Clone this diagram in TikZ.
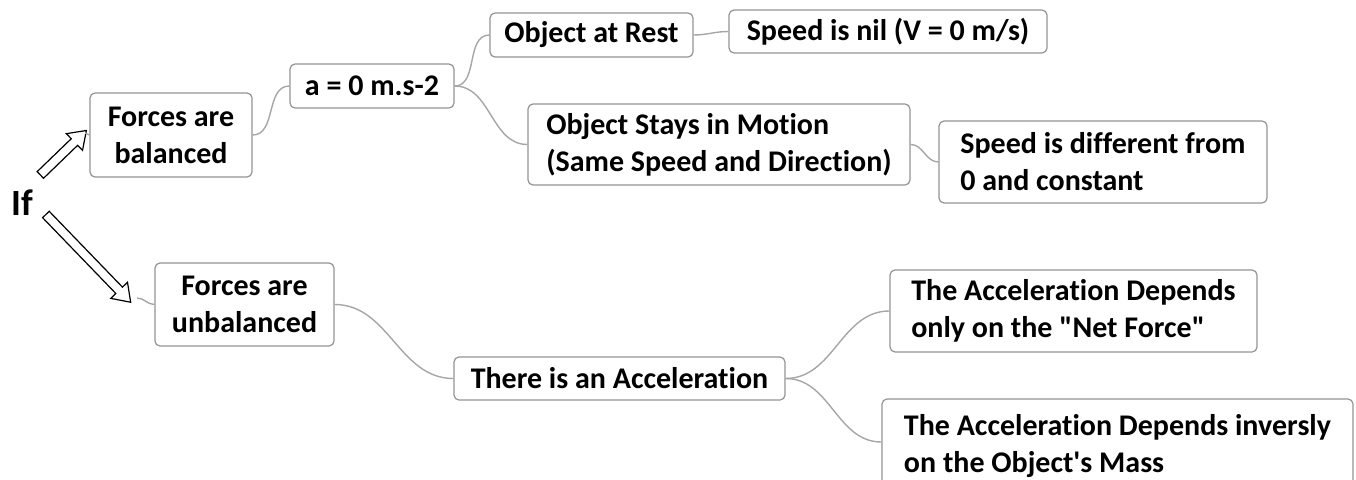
\documentclass[tikz,border=0pt]{standalone}
\usepackage{fontspec}
\setmainfont{Carlito}[Ligatures={TeXOff,NoCommon}]
\usetikzlibrary{shapes.arrows}

\begin{document}
\begin{tikzpicture}[x=1pt, y=-1pt,
		box/.style={draw=gray!85, line width=1.2pt, rounded corners=5pt, align=left, inner sep=0pt,
			font=\bfseries\fontsize{30}{37}\selectfont},
		link/.style={draw=gray!70, line width=1.4pt},
		hollow/.style={single arrow, draw=black, fill=white, line width=1.2pt, inner xsep=0pt, inner ysep=4pt,
			single arrow head extend=7pt, single arrow tip angle=70}]
		\useasboundingbox (0,0) rectangle (1356,479);
		\clip (0,0) rectangle (1356,479);
		\node[font=\bfseries\fontsize{37}{37}\selectfont] (if) at (22,203) {If};
		\node[hollow, minimum height=64pt, rotate=44] (upArr) at (61,155) {};
		\node[hollow, minimum height=122pt, rotate=-46] (downArr) at (86,256) {};
		\node[box, align=center, minimum width=162pt, minimum height=84pt] (bal) at (171,135) {Forces are\\balanced};
		\node[box, minimum width=164pt, minimum height=44pt] (acc) at (372,86) {a = 0 m.s-2};
		\node[box, minimum width=203pt, minimum height=44pt] (rest) at (591.5,35) {Object at Rest};
		\node[box, minimum width=318pt, minimum height=43pt] (nil) at (888,31.5) {Speed is nil (V = 0 m/s)};
		\node[box, minimum width=382pt, minimum height=81pt] (motion) at (719,144.5) {Object Stays in Motion\\(Same Speed and Direction)};
		\node[box, minimum width=328pt, minimum height=82pt] (diff) at (1103,162) {Speed is different from\\0 and constant};
		\node[box, align=center, minimum width=179pt, minimum height=83pt] (unb) at (244.5,304.5) {Forces are\\unbalanced};
		\node[box, minimum width=331pt, minimum height=43pt] (there) at (619.5,378.5) {There is an Acceleration};
		\node[box, minimum width=367pt, minimum height=82pt] (net) at (1073.5,311) {The Acceleration Depends\\only on the "Net Force"};
		\node[box, minimum width=471pt, minimum height=86pt] (mass) at (1117.5,442) {\rule{0pt}{30pt}The Acceleration Depends inversly\\on the Object's Mass};
		\coordinate (balIn) at (85,133);
		\coordinate (unbIn) at (137,298);
		\draw[link] (balIn) to[out=0,in=180] (bal.west);
		\draw[link] (unbIn) to[out=0,in=180] (unb.west);
		\draw[link] (bal.east) to[out=0,in=180] (acc.west);
		\draw[link] (acc.east) to[out=0,in=180] (rest.west);
		\draw[link] (acc.east) to[out=0,in=180] (motion.west);
		\draw[link] (rest.east) to[out=0,in=180] (nil.west);
		\draw[link] (motion.east) to[out=0,in=180] (diff.west);
		\draw[link] (unb.east) to[out=0,in=180] (there.west);
		\draw[link] (there.east) to[out=0,in=180] (net.west);
		\draw[link] (there.east) to[out=0,in=180] (mass.west);
	\end{tikzpicture}
\end{document}
